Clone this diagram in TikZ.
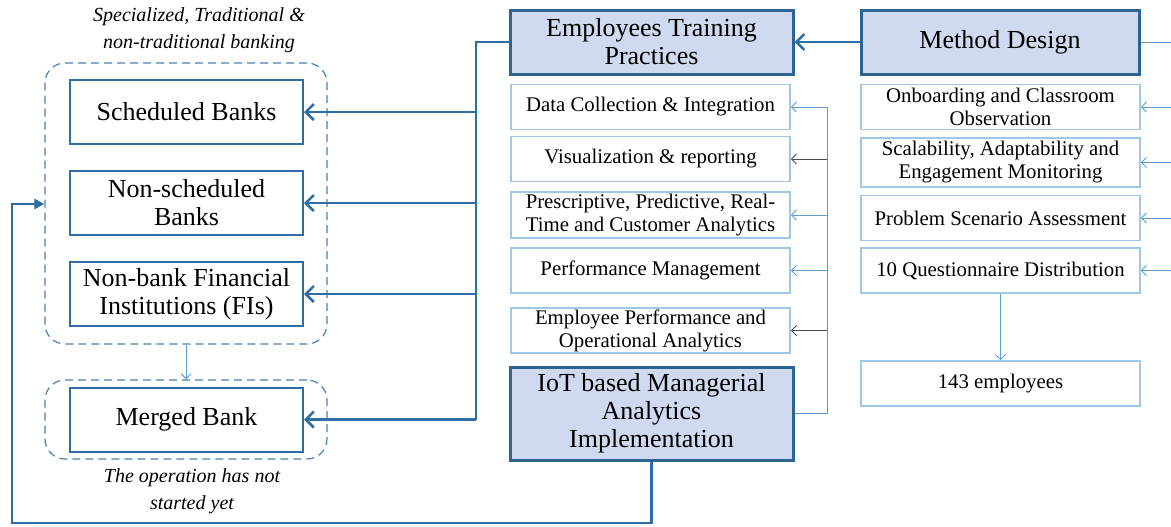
\documentclass[tikz,border=0pt]{standalone}
\usepackage{fontspec}
\setmainfont{Liberation Serif}
\usetikzlibrary{arrows.meta}

\definecolor{frameblue}{RGB}{44,100,146}
\definecolor{linkblue}{RGB}{46,110,165}
\definecolor{fillblue}{RGB}{207,218,240}
\definecolor{paleblue}{RGB}{160,198,232}
\definecolor{thinblue}{RGB}{95,155,205}
\definecolor{dashblue}{RGB}{70,128,180}
\definecolor{tipgray}{RGB}{75,75,75}

\begin{document}
\begin{tikzpicture}[x=0.5pt,y=-0.5pt,
  mainbox/.style={draw=frameblue,line width=1.5pt,fill=fillblue,align=center,
    inner sep=0pt,font=\fontsize{13}{14}\selectfont},
  bankbox/.style={draw=linkblue,line width=1pt,fill=white,align=center,inner sep=0pt,
    minimum width=116.5pt,minimum height=32pt,font=\fontsize{13}{14}\selectfont},
  subbox/.style={draw=paleblue,line width=0.8pt,fill=white,align=center,inner sep=0pt,
    minimum width=139.5pt,minimum height=22.5pt,font=\fontsize{10.4}{11.5}\selectfont},
  group/.style={draw=dashblue,line width=0.6pt,dash pattern=on 4pt off 2.5pt,
    rounded corners=10pt,minimum width=141pt},
  note/.style={align=center,font=\fontsize{10}{13.5}\selectfont\itshape},
  link/.style={draw=linkblue,line width=1.25pt},
  linkarr/.style={link,-{Straight Barb[length=4pt,width=8pt]}},
  thinline/.style={draw=thinblue,line width=0.5pt},
  thinarr/.style={thinline,-{Straight Barb[length=2.5pt,width=5pt]}},
  grayarr/.style={thinarr,draw=tipgray}]
  \useasboundingbox (0,0) rectangle (1171,526);

  % Bank groups and their notes
  \node[group,minimum height=140.5pt] (grpA) at (186,203.5) {};
  \node[group,minimum height=39.5pt] (grpB) at (186,419.5) {};
  \node[note] (capA) at (199,30) {Specialized, Traditional \&\\non-traditional banking};
  \node[note] (capB) at (192,491) {The operation has not\\started yet};

  \node[bankbox] (sched) at (186.5,112) {Scheduled Banks};
  \node[bankbox] (nsched) at (186.5,203) {Non-scheduled\\Banks};
  \node[bankbox] (nbfi) at (186.5,294) {Non-bank Financial\\Institutions (FIs)};
  \node[bankbox] (merged) at (186.5,419.5) {Merged Bank};

  % Main blocks
  \node[mainbox,minimum width=141.5pt,minimum height=32pt] (etp) at (651.5,42)
    {Employees Training\\Practices};
  \node[mainbox,minimum width=139pt,minimum height=32pt] (md) at (1000,42) {Method Design};
  \node[mainbox,minimum width=141.5pt,minimum height=46.5pt] (iot) at (651.5,413.5)
    {IoT based Managerial\\Analytics\\Implementation};

  % Analytics steps
  \node[subbox] (dci) at (650.5,107) {Data Collection \& Integration};
  \node[subbox] (viz) at (650.5,159) {Visualization \& reporting};
  \node[subbox,minimum height=23pt] (pred) at (650.5,215)
    {Prescriptive, Predictive, Real-\\Time and Customer Analytics};
  \node[subbox] (perf) at (650.5,270.5) {Performance Management};
  \node[subbox] (epoa) at (650.5,330.5) {Employee Performance and\\Operational Analytics};

  % Method steps
  \node[subbox] (onb) at (1000.5,107) {Onboarding and Classroom\\Observation};
  \node[subbox,minimum height=24.5pt] (scal) at (1000.5,162.5)
    {Scalability, Adaptability and\\Engagement Monitoring};
  \node[subbox] (prob) at (1000.5,218) {Problem Scenario Assessment};
  \node[subbox] (quest) at (1000.5,270.5) {10 Questionnaire Distribution};
  \node[subbox] (emp) at (1000.5,383.5) {143 employees};

  % Turning points
  \coordinate (ltrunk) at (476,419.5);
  \coordinate (rtrunk) at (827,107);
  \coordinate (edge) at (1171,0);
  \coordinate (loopbot) at (651.5,523);
  \coordinate (loopleft) at (12,204);

  % Training practices to the banks
  \draw[link] (etp.west) -| (ltrunk);
  \foreach \n in {sched,nsched,nbfi}
    \draw[linkarr] (ltrunk |- \n.east) -- (\n.east);
  \draw[linkarr] (ltrunk) -- (merged.east);
  \draw[linkarr] (md.west) -- (etp.east);
  \draw[thinarr] (grpA.south) -- (grpB.north);

  % IoT block feeding the analytics steps
  \draw[thinline] (iot.east) -| (rtrunk);
  \foreach \n in {dci,pred,perf}
    \draw[thinarr] (rtrunk |- \n.east) -- (\n.east);
  \foreach \n in {viz,epoa}
    \draw[grayarr] (rtrunk |- \n.east) -- (\n.east);

  % Method side
  \draw[thinline] (md.east) -- (md.east -| edge);
  \foreach \n in {onb,scal,prob,quest}
    \draw[thinarr] (edge |- \n.east) -- (\n.east);
  \draw[thinarr] (quest.south) -- (emp.north);

  % Loop back to the bank group
  \draw[link,-{Triangle[length=5pt,width=5pt]}] (iot.south) -- (loopbot) -| (loopleft)
    -- (loopleft -| grpA.west);
\end{tikzpicture}
\end{document}
